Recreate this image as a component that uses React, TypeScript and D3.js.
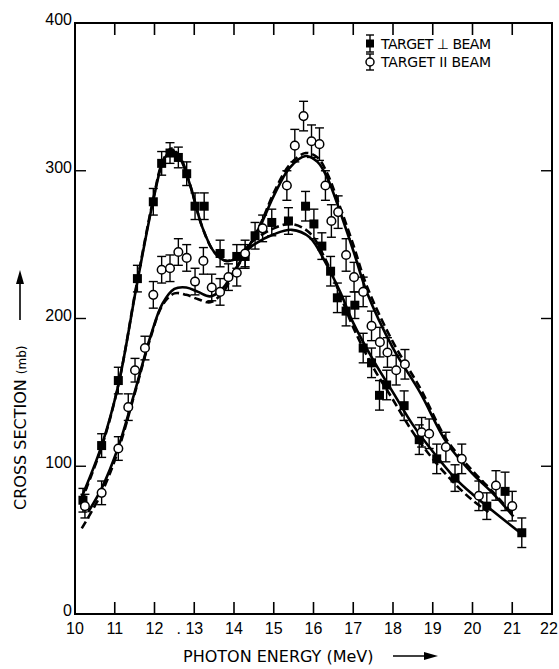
import React from "react";
import * as d3 from "d3";

const xTicks = [10, 11, 12, 13, 14, 15, 16, 17, 18, 19, 20, 21, 22];
const xTickLabels = ["10", "11", "12", ". 13", "14", "15", "16", "17", "18", "19", "20", "21", "22"];
const yTicks = [0, 100, 200, 300, 400];
const yTickLabels = ["0", "100", "200", "300", "400"];

// TARGET ⊥ BEAM (filled squares)
const perpX = [10.2, 10.67, 11.09, 11.57, 11.97, 12.18, 12.39, 12.6, 12.81, 13.02, 13.25, 13.65, 14.07, 14.28, 14.53, 14.95, 15.37, 15.8, 16.01, 16.21, 16.43, 16.6, 16.82, 17.04, 17.25, 17.46, 17.66, 17.84, 18.28, 18.66, 19.1, 19.56, 20.36, 20.82, 21.24];
const perpY = [77, 114, 158, 227, 279, 305, 312, 309, 298, 276, 276, 244, 242, 242, 256, 265, 266, 276, 264, 249, 232, 214, 205, 209, 180, 170, 148, 155, 141, 118, 105, 92, 73, 83, 55];
const perpErr = [8, 8, 9, 9, 9, 8, 7, 7, 8, 9, 9, 9, 8, 8, 9, 9, 9, 10, 10, 9, 10, 10, 10, 9, 10, 10, 10, 10, 10, 10, 10, 9, 9, 13, 10];

// TARGET ∥ BEAM (open circles)
const parX = [10.25, 10.67, 11.09, 11.34, 11.51, 11.76, 11.97, 12.18, 12.39, 12.6, 12.81, 13.02, 13.23, 13.44, 13.65, 13.86, 14.07, 14.28, 14.72, 15.33, 15.53, 15.75, 15.95, 16.15, 16.3, 16.45, 16.62, 16.82, 17.02, 17.25, 17.46, 17.67, 17.86, 18.08, 18.3, 18.72, 18.91, 19.33, 19.73, 20.16, 20.59, 21.0];
const parY = [73, 82, 112, 140, 165, 180, 216, 233, 234, 245, 241, 225, 239, 221, 218, 228, 231, 244, 261, 290, 317, 337, 320, 318, 290, 266, 272, 243, 228, 218, 195, 184, 177, 165, 169, 123, 122, 113, 105, 80, 87, 73];
const parErr = [8, 8, 8, 9, 8, 8, 9, 9, 9, 9, 9, 9, 9, 9, 9, 9, 9, 9, 9, 10, 11, 10, 11, 11, 10, 11, 11, 11, 10, 10, 10, 10, 10, 10, 10, 10, 10, 10, 10, 10, 10, 10];

// fitted curves
const fitPerpSolidX = [10.15, 10.67, 11.09, 11.57, 11.97, 12.2, 12.42, 12.65, 12.9, 13.2, 13.5, 13.8, 14.1, 14.5, 15.0, 15.45, 15.9, 16.3, 16.67, 17.0, 17.5, 18.0, 18.5, 19.0, 19.56, 20.0, 20.36, 21.2];
const fitPerpSolidY = [78, 114, 155, 225, 280, 305, 314, 308, 290, 262, 245, 239, 241, 250, 257, 260, 255, 238, 218, 197, 172, 150, 128, 110, 92, 81, 73, 55];
const fitPerpDashX = [10.15, 10.67, 11.09, 11.57, 11.97, 12.2, 12.42, 12.65, 12.9, 13.2, 13.5, 13.8, 14.1, 14.5, 15.0, 15.45, 15.9, 16.3, 16.67, 17.0, 17.5, 18.0, 18.5, 19.0, 19.56, 20.0, 20.4];
const fitPerpDashY = [76, 113, 155, 226, 281, 306, 315, 309, 290, 262, 245, 239, 242, 253, 261, 264, 258, 240, 216, 194, 167, 145, 123, 105, 88, 77, 69];
const fitParSolidX = [10.33, 10.67, 11.09, 11.5, 11.9, 12.2, 12.5, 12.8, 13.1, 13.4, 13.7, 14.0, 14.3, 14.7, 15.0, 15.4, 15.8, 16.1, 16.35, 16.58, 17.0, 17.34, 18.0, 18.68, 19.35, 20.0, 20.5, 21.03];
const fitParSolidY = [69, 85, 113, 150, 188, 210, 220, 221, 218, 215, 220, 232, 245, 265, 283, 302, 310, 306, 295, 279, 246, 218, 180, 150, 116, 95, 82, 66];
const fitParDashX = [10.17, 10.67, 11.09, 11.5, 11.9, 12.2, 12.5, 12.8, 13.1, 13.4, 13.7, 14.0, 14.3, 14.7, 15.0, 15.4, 15.8, 16.1, 16.35, 16.58, 17.0, 17.34, 18.0, 18.68, 19.35, 20.0, 20.5, 21.03];
const fitParDashY = [58, 82, 111, 149, 187, 209, 217, 216, 213, 211, 217, 231, 245, 266, 285, 304, 312, 309, 298, 282, 250, 222, 184, 153, 118, 97, 83, 67];

const W = 559;
const H = 669;
const L = 75, R = 552, T = 23, B = 614;

const NUM_FONT = "'Liberation Sans', Arial, sans-serif";
const TXT_FONT = "'DejaVu Sans', Verdana, sans-serif";

export default function App() {
  const x = d3.scaleLinear().domain([10, 22]).range([L, R]);
  const y = d3.scaleLinear().domain([0, 400]).range([B, T]);
  const line = d3
    .line<[number, number]>()
    .x((d) => x(d[0]))
    .y((d) => y(d[1]))
    .curve(d3.curveCatmullRom.alpha(0.5));

  const zip = (a: number[], b: number[]) => a.map((v, i) => [v, b[i]] as [number, number]);

  const curves = [
    { d: line(zip(fitPerpSolidX, fitPerpSolidY)), dash: undefined },
    { d: line(zip(fitPerpDashX, fitPerpDashY)), dash: "8,4" },
    { d: line(zip(fitParSolidX, fitParSolidY)), dash: undefined },
    { d: line(zip(fitParDashX, fitParDashY)), dash: "8,4" },
  ];

  const cap = 4.5;
  const errBar = (cx: number, v: number, e: number, key: string) => {
    const px = x(cx);
    const y1 = y(v + e);
    const y2 = y(v - e);
    return (
      <g key={key} stroke="#000" strokeWidth={1.4}>
        <line x1={px} x2={px} y1={y1} y2={y2} />
        <line x1={px - cap} x2={px + cap} y1={y1} y2={y1} />
        <line x1={px - cap} x2={px + cap} y1={y2} y2={y2} />
      </g>
    );
  };

  return (
    <svg width={W} height={H} style={{ position: "absolute", left: 0, top: 0, background: "#fff" }} fontFamily={NUM_FONT}>
      <rect x={0} y={0} width={W} height={H} fill="#fff" />
      {/* frame */}
      <rect x={L} y={T} width={R - L} height={B - T} fill="none" stroke="#000" strokeWidth={2} />
      {/* x ticks top and bottom */}
      {xTicks.slice(1, -1).map((t) => (
        <g key={"xt" + t} stroke="#000" strokeWidth={1.6}>
          <line x1={x(t)} x2={x(t)} y1={B} y2={B - 12} />
          <line x1={x(t)} x2={x(t)} y1={T} y2={T + 12} />
        </g>
      ))}
      {/* y ticks left and right */}
      {yTicks.slice(1, -1).map((t) => (
        <g key={"yt" + t} stroke="#000" strokeWidth={1.4}>
          <line x1={L} x2={L + 11} y1={y(t)} y2={y(t)} />
          <line x1={R} x2={R - 11} y1={y(t)} y2={y(t)} />
        </g>
      ))}
      {/* x tick labels */}
      {xTicks.map((t, i) => {
        const lab = xTickLabels[i];
        const dotted = lab.startsWith(".");
        const last = i === xTicks.length - 1;
        return (
          <text
            key={"xl" + t}
            x={x(t) + (dotted ? 9 : 0) - (last ? 3 : 0)}
            y={B + 20}
            fontSize={16}
            textAnchor={dotted ? "end" : "middle"}
            fill="#000"
          >
            {lab}
          </text>
        );
      })}
      {/* y tick labels */}
      {yTicks.map((t, i) => (
        <text key={"yl" + t} x={L - 3} y={y(t) + 2} fontSize={16} textAnchor="end" fill="#000">
          {yTickLabels[i]}
        </text>
      ))}
      {/* x axis title */}
      <text x={183} y={662} fontSize={16} fill="#000" fontFamily={TXT_FONT}>
        PHOTON ENERGY (MeV)
      </text>
      <line x1={393} x2={426} y1={656} y2={656} stroke="#000" strokeWidth={1.6} />
      <polygon points="424,652 438,656 424,660" fill="#000" />
      {/* y axis title */}
      <g transform="translate(26,510) rotate(-90)" fontFamily={TXT_FONT}>
        <text x={0} y={0} fontSize={16} fill="#000">
          CROSS SECTION <tspan fontSize={12}>(mb)</tspan>
        </text>
        <line x1={190} x2={228} y1={-6} y2={-6} stroke="#000" strokeWidth={1.6} />
        <polygon points="226,-10 240,-6 226,-2" fill="#000" />
      </g>
      {/* fitted curves */}
      {curves.map((c, i) => (
        <path
          key={"c" + i}
          d={c.d || ""}
          fill="none"
          stroke="#000"
          strokeWidth={2.6}
          strokeDasharray={c.dash}
        />
      ))}
      {/* error bars */}
      {perpX.map((v, i) => errBar(v, perpY[i], perpErr[i], "pe" + i))}
      {parX.map((v, i) => errBar(v, parY[i], parErr[i], "ae" + i))}
      {/* markers */}
      {perpX.map((v, i) => (
        <rect key={"pm" + i} x={x(v) - 4.5} y={y(perpY[i]) - 4.5} width={9} height={9} fill="#000" />
      ))}
      {parX.map((v, i) => (
        <circle key={"am" + i} cx={x(v)} cy={y(parY[i])} r={4.3} fill="#fff" stroke="#000" strokeWidth={1.5} />
      ))}
      {/* legend */}
      <g>
        <g stroke="#000" strokeWidth={1.4}>
          <line x1={370} x2={370} y1={35} y2={52} />
          <line x1={366} x2={374} y1={35} y2={35} />
          <line x1={366} x2={374} y1={52} y2={52} />
          <line x1={370} x2={370} y1={54} y2={70} />
          <line x1={366} x2={374} y1={54} y2={54} />
          <line x1={366} x2={374} y1={70} y2={70} />
        </g>
        <rect x={366} y={39.5} width={8} height={8} fill="#000" />
        <circle cx={370} cy={62} r={4} fill="#fff" stroke="#000" strokeWidth={1.5} />
        <text x={381} y={49} fontSize={14} fill="#000" fontFamily={TXT_FONT} textLength={110}>
          TARGET ⊥ BEAM
        </text>
        <text x={381} y={67} fontSize={14} fill="#000" fontFamily={TXT_FONT} textLength={110}>
          TARGET II BEAM
        </text>
      </g>
    </svg>
  );
}
